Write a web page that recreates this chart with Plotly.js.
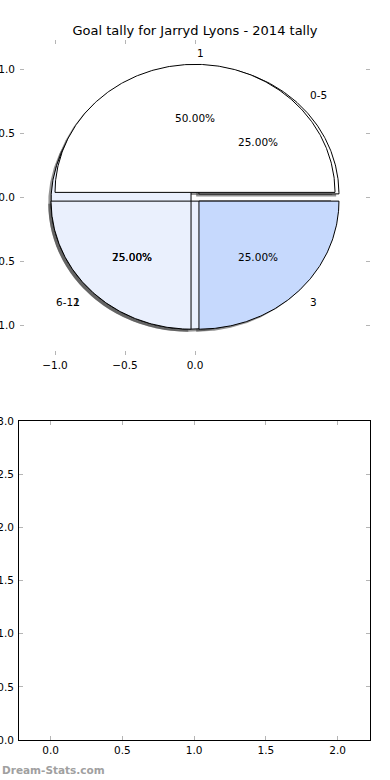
<!DOCTYPE html>
<html>
<head>
<meta charset="utf-8">
<script src="https://cdn.plot.ly/plotly-3.0.1.min.js"></script>
<style>html,body{margin:0;padding:0;background:#fff;}#chart{width:390px;height:780px;}</style>
</head>
<body>
<div id="chart"></div>
<script>
// ---- data ----
const titleText = 'Goal tally for Jarryd Lyons - 2014 tally';
const labelsA = ['1', '2', '3'];
const valuesA = [2, 1, 1];
const colorsA = ['#ffffff', '#eaf0fd', '#c6d9fd'];
const labelsB = ['0-5', '6-11'];
const valuesB = [1, 3];
const colorsB = ['#ffffff', '#eaf0fd'];
const pieXTicks = [-1.0, -0.5, 0.0];
const pieYTicks = [-1.0, -0.5, 0.0, 0.5, 1.0];
const lowerXTicks = [0.0, 0.5, 1.0, 1.5, 2.0];
const lowerYTicks = [0.0, 0.5, 1.0, 1.5, 2.0, 2.5, 3.0];
const watermark = 'Dream-Stats.com';

// ---- pie geometry helpers (matplotlib-like pie drawn in data coords) ----
const explode = 0.04, shadowOff = -0.02, labelR = 1.1, pctR = 0.6;
const FONT = 'DejaVu Sans';

function wedges(labels, values, colors) {
  const total = values.reduce((a, b) => a + b, 0);
  let start = 0;
  return values.map((v, i) => {
    const frac = v / total;
    const a1 = start * 2 * Math.PI, a2 = (start + frac) * 2 * Math.PI;
    start += frac;
    const mid = (a1 + a2) / 2;
    const cx = explode * Math.cos(mid), cy = explode * Math.sin(mid);
    const xs = [cx], ys = [cy];
    const n = Math.max(8, Math.ceil((a2 - a1) / 0.01));
    for (let k = 0; k <= n; k++) {
      const a = a1 + (a2 - a1) * k / n;
      xs.push(cx + Math.cos(a)); ys.push(cy + Math.sin(a));
    }
    xs.push(cx); ys.push(cy);
    return {label: labels[i], pct: (frac * 100).toFixed(2) + '%', color: colors[i],
            xs, ys, mid, cx, cy};
  });
}

const wA = wedges(labelsA, valuesA, colorsA);
const wB = wedges(labelsB, valuesB, colorsB);

const traces = [];
// shadows first (below all wedges)
[...wB, ...wA].forEach(w => {
  traces.push({type: 'scatter', mode: 'lines', x: w.xs.map(v => v + shadowOff), y: w.ys.map(v => v + shadowOff),
    fill: 'toself', fillcolor: 'rgba(60,60,60,0.55)', line: {width: 0}, hoverinfo: 'skip', showlegend: false,
    xaxis: 'x', yaxis: 'y'});
});
// wedges: pie B then pie A
[...wB, ...wA].forEach(w => {
  traces.push({type: 'scatter', mode: 'lines', x: w.xs, y: w.ys, fill: 'toself', fillcolor: w.color,
    line: {color: '#000', width: 1}, hoverinfo: 'skip', showlegend: false, xaxis: 'x', yaxis: 'y'});
});
// empty trace for lower axes
traces.push({type: 'scatter', mode: 'markers', x: [], y: [], xaxis: 'x2', yaxis: 'y2', showlegend: false});

const annotations = [];
// percentage texts (pie B then pie A), in data coords
[...wB, ...wA].forEach(w => {
  annotations.push({x: w.cx + pctR * Math.cos(w.mid), y: w.cy + pctR * Math.sin(w.mid), xref: 'x', yref: 'y',
    text: w.pct, showarrow: false, xanchor: 'center', yanchor: 'middle', yshift: -2,
    font: {family: FONT, size: 10.5, color: '#000'}});
});
// outer labels
[...wB, ...wA].forEach(w => {
  const x = w.cx + labelR * Math.cos(w.mid), y = w.cy + labelR * Math.sin(w.mid);
  annotations.push({x, y, xref: 'x', yref: 'y', text: w.label, showarrow: false, yshift: -1,
    xanchor: x > 0 ? 'left' : 'right', yanchor: 'middle', font: {family: FONT, size: 10.5, color: '#000'}});
});
annotations.push({x: 0, y: 1 - 770 / 780, xref: 'paper', yref: 'paper', text: '<b>' + watermark + '</b>', showarrow: false,
  xanchor: 'left', yanchor: 'middle', font: {family: FONT, size: 10.5, color: '#a0a0a0'}});

const tickCommon = {ticks: 'inside', ticklen: 4, tickwidth: 1, tickcolor: '#b5b5b5', showgrid: false, zeroline: false,
  tickfont: {family: FONT, size: 10.5, color: '#000'}, tickformat: '.1f', fixedrange: true};

const layout = {
  width: 390, height: 780, margin: {l: 0, r: 0, t: 0, b: 0}, paper_bgcolor: '#fff', plot_bgcolor: '#fff',
  showlegend: false,
  title: {text: titleText, x: 0.5, xanchor: 'center', y: 1 - 30 / 780, yanchor: 'middle', font: {family: FONT, size: 13, color: '#000'}},
  xaxis: Object.assign({}, tickCommon, {domain: [20 / 390, 370 / 390], range: [-1.25, 1.25], tickvals: pieXTicks,
    showline: false, mirror: 'ticks', anchor: 'y', ticklabelstandoff: 2}),
  yaxis: Object.assign({}, tickCommon, {domain: [1 - 355 / 780, 1 - 40 / 780], range: [-1.23, 1.23], tickvals: pieYTicks,
    showline: false, mirror: 'ticks', anchor: 'x', ticklabelstandoff: 4}),
  xaxis2: Object.assign({}, tickCommon, {domain: [19 / 390, 370 / 390], range: [-0.22, 2.225], tickvals: lowerXTicks,
    showline: true, linecolor: '#000', linewidth: 1, mirror: 'ticks', anchor: 'y2'}),
  yaxis2: Object.assign({}, tickCommon, {domain: [1 - 740 / 780, 1 - 421 / 780], range: [0, 3], tickvals: lowerYTicks,
    showline: true, linecolor: '#000', linewidth: 1, mirror: 'ticks', anchor: 'x2', ticklabelstandoff: 2}),
  annotations
};

Plotly.newPlot('chart', traces, layout, {staticPlot: true, displayModeBar: false});
</script>
</body>
</html>
